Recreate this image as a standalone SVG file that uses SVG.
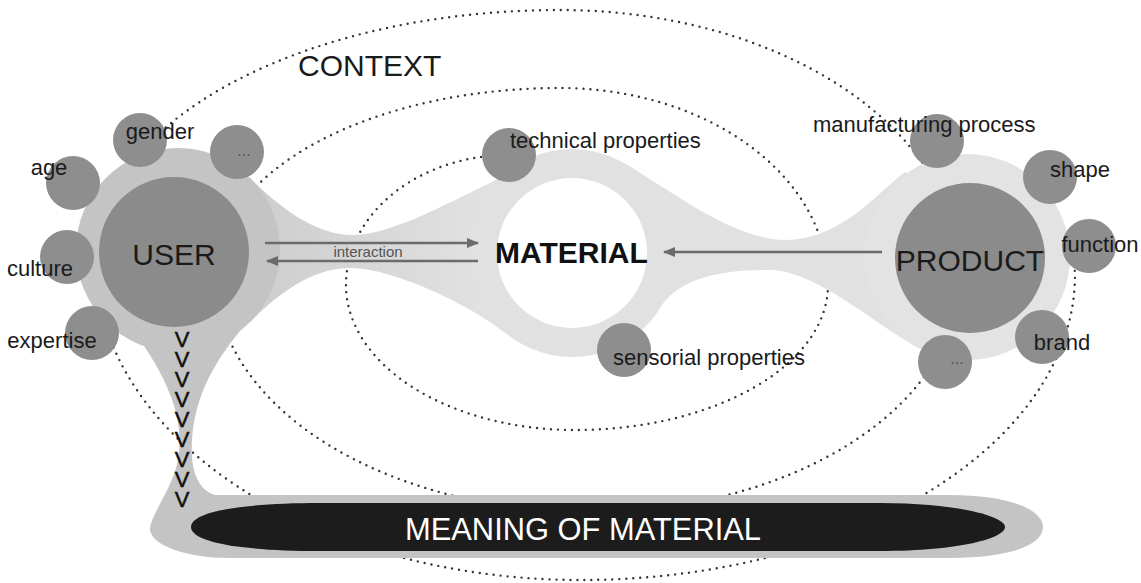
<svg xmlns="http://www.w3.org/2000/svg" width="1141" height="583" viewBox="0 0 1141 583">
<defs>
<style>
text{font-family:"Liberation Sans",Arial,sans-serif;fill:#1a1a1a}
.lbl{font-size:22px}
.big{font-size:30px}
.sat{fill:#8e8e8e}
.core{fill:#8b8b8b}
.ring{fill:#c4c4c4}
.light{fill:#e1e1e1}
.dots{fill:none;stroke:#333;stroke-width:2.4;stroke-linecap:round;stroke-dasharray:0 7}
.arr{stroke:#6b6b6b;stroke-width:2.5;fill:none}
.chev{font-size:22px;letter-spacing:-5px;fill:#111;stroke:#111;stroke-width:0.5;writing-mode:vertical-rl;text-orientation:upright}
.ell{font-size:16px;fill:#555}
</style>
<linearGradient id="gl" x1="250" y1="0" x2="480" y2="0" gradientUnits="userSpaceOnUse"><stop offset="0" stop-color="#cdcdcd"/><stop offset="1" stop-color="#e1e1e1"/></linearGradient>
<marker id="ah" viewBox="0 0 12 10" refX="11" refY="5" markerWidth="12" markerHeight="10" markerUnits="userSpaceOnUse" orient="auto"><path d="M0,0 L12,5 L0,10 Z" fill="#6b6b6b"/></marker>
</defs>
<rect width="1141" height="583" fill="#fff"/>

<g id="context-spiral">
<path class="dots" d="M509,155 A163,130 0 0 0 346,285 A229,145 0 0 0 575,430 A253,145 0 0 0 828,285 A268,197 0 0 0 560,88 A345,187 0 0 0 215,275 A375,237 0 0 0 590,512 A370,237 0 0 0 960,275 A400,265 0 0 0 560,10 A465,250 0 0 0 95,260 A486,320 0 0 0 581,580 A494,305 0 0 0 1075,275 A494,305 0 0 0 1072,250"/>
</g>

<g id="blob">
<path fill="url(#gl)" d="M250,178 C285,213 320,235 352,235 C390,235 440,207 500,178 L540,200 L540,300 L505,333 C475,308 395,268 350,268 C310,268 275,297 250,322 Z"/>
<path class="light" d="M620,161 C660,182 730,240 785,240 C840,240 875,195 905,172 L960,200 L960,300 L930,353 C890,338 820,270 770,270 C725,270 680,276 660,308 Z"/>
</g>

<g id="material">
<circle class="light" cx="572" cy="253" r="104"/>
<circle fill="#fff" cx="572" cy="253" r="75"/>
<text x="495" y="263" style="font-size:30px;font-weight:bold;fill:#111">MATERIAL</text>
</g>

<g id="technical-properties">
<circle class="sat" cx="509" cy="155" r="27"/>
<text class="lbl" x="510" y="148">technical properties</text>
</g>
<g id="sensorial-properties">
<circle class="sat" cx="624" cy="350" r="27"/>
<text class="lbl" x="613" y="365">sensorial properties</text>
</g>

<g id="product">
<circle fill="#e3e3e3" cx="967" cy="257" r="103"/>
<circle class="core" cx="970" cy="258" r="75"/>
<text class="big" x="970" y="271" text-anchor="middle">PRODUCT</text>
</g>
<g id="manufacturing-process">
<circle class="sat" cx="937" cy="141" r="27"/>
<text class="lbl" x="813" y="132">manufacturing process</text>
</g>
<g id="shape">
<circle class="sat" cx="1050" cy="177" r="27"/>
<text class="lbl" x="1080" y="177" text-anchor="middle">shape</text>
</g>
<g id="function">
<circle class="sat" cx="1089" cy="246" r="27"/>
<text class="lbl" x="1100" y="252" text-anchor="middle">function</text>
</g>
<g id="brand">
<circle class="sat" cx="1042" cy="337" r="27"/>
<text class="lbl" x="1062" y="350" text-anchor="middle">brand</text>
</g>
<g id="product-more">
<circle class="sat" cx="945" cy="362" r="27"/>
<text class="ell" x="957" y="364" text-anchor="middle">...</text>
</g>

<g id="meaning">
<path class="ring" d="M245,325 C215,360 195,395 192,440 C190,470 198,490 215,495 L950,495 C1010,495 1043,510 1043,527 C1043,545 1010,558 950,558 L230,558 C185,558 152,545 150,530 C150,515 172,490 178,460 C183,430 178,395 140,340 Z"/>
<path fill="#1c1c1c" d="M191,527 C191,512 240,503 320,503 L880,503 C960,503 1005,517 1005,527 C1005,538 960,551 880,551 L320,551 C240,551 191,542 191,527 Z"/>
<text x="583" y="540" text-anchor="middle" textLength="356" lengthAdjust="spacingAndGlyphs" style="font-size:32px;fill:#fff">MEANING OF MATERIAL</text>
</g>

<g id="user">
<circle class="ring" cx="178" cy="250" r="102"/>
<circle class="core" cx="174" cy="252" r="75"/>
<text class="big" x="174" y="265" text-anchor="middle">USER</text>
</g>
<g id="age">
<circle class="sat" cx="73" cy="183" r="27"/>
<text class="lbl" x="49" y="175" text-anchor="middle">age</text>
</g>
<g id="gender">
<circle class="sat" cx="140" cy="140" r="27"/>
<text class="lbl" x="160" y="139" text-anchor="middle">gender</text>
</g>
<g id="user-more">
<circle class="sat" cx="237" cy="152" r="27"/>
<text class="ell" x="244" y="156" text-anchor="middle">...</text>
</g>
<g id="culture">
<circle class="sat" cx="67" cy="257" r="27"/>
<text class="lbl" x="40" y="276" text-anchor="middle">culture</text>
</g>
<g id="expertise">
<circle class="sat" cx="92" cy="333" r="27"/>
<text class="lbl" x="52" y="348" text-anchor="middle">expertise</text>
</g>

<g id="flow">
<text class="chev" x="182" y="327">VVVVVVVVV</text>
</g>

<g id="connectors">
<line class="arr" x1="265" y1="243" x2="478" y2="243" marker-end="url(#ah)"/>
<line class="arr" x1="478" y1="261" x2="267" y2="261" marker-end="url(#ah)"/>
<line class="arr" x1="882" y1="252" x2="664" y2="252" marker-end="url(#ah)"/>
<text x="368" y="257" text-anchor="middle" style="font-size:15px;fill:#555">interaction</text>
</g>

<g id="context-label">
<text class="big" x="298" y="76">CONTEXT</text>
</g>
</svg>
